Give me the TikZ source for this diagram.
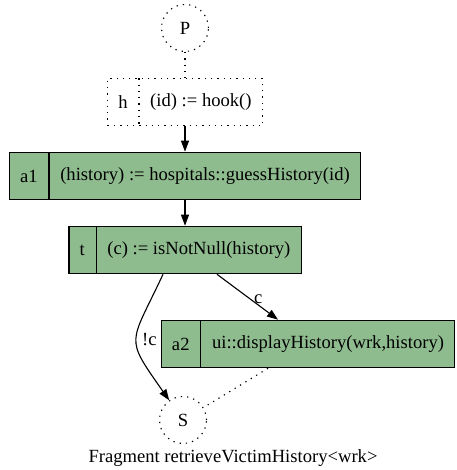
\documentclass[tikz,border=0pt]{standalone}
\usepackage{fontspec}
\setmainfont{Liberation Serif}
\usepackage{tikz}
\usetikzlibrary{arrows.meta,shapes}

\definecolor{actgreen}{HTML}{8FBC8F}

\begin{document}
\begin{tikzpicture}[node distance=74pt, inner sep=0pt, font=\fontsize{18.6}{22}\selectfont]
    \tikzstyle{rec}=[rectangle split, rectangle split horizontal, rectangle split parts=2,
      draw=black, line width=1.1pt, inner xsep=10.7pt, inner ysep=15.3pt, text=black]
    \tikzstyle{act}=[rec, fill=actgreen]
    \tikzstyle{hk}=[rec, dash pattern=on 1.3pt off 5pt]
    \tikzstyle{term}=[circle, minimum size=47pt, draw, line width=1.1pt, dash pattern=on 1.3pt off 5pt]
    \tikzstyle{flow}=[-{Triangle[length=11pt,width=8pt]}, line width=1.1pt]
    \tikzstyle{link}=[line width=1.1pt, dash pattern=on 1.3pt off 5pt]

    \useasboundingbox (0pt,0pt) rectangle (456pt,-470pt);

    \node[term] (P) at (185pt,-28pt) {P};
    \node[hk] (h) [below of=P] {h \nodepart{two} (id) := hook()};
    \node[act] (a1) [below of=h] {a1 \nodepart{two} (history) := hospitals::guessHistory(id)};
    \node[act] (t) [below of=a1] {t \nodepart{two} (c) := isNotNull(history)};

    \node[act] (a2) at (308pt,-344pt) {a2 \nodepart{two} ui::displayHistory(wrk,history)};
    \node[term] (S) at (183pt,-420pt) {S};

    \node (caption) at (233pt,-458pt) {Fragment retrieveVictimHistory<wrk>};

    % les fleches...
    \draw[link] (P) to (h);
    \draw[flow] (h) to (a1);
    \draw[flow] (a1) to (t);

    \draw[flow] ([xshift=+32pt] t.south) to node[pos=0.55, right=3pt] {c} ([xshift=-30pt] a2.north);
    \draw[flow] ([xshift=-22pt] t.south) to[out=245, in=125, looseness=1.6] node[pos=0.5, right=5pt] {!c} (S);
    \draw[link] ([xshift=-40pt] a2.south) to (S);
\end{tikzpicture}
\end{document}
